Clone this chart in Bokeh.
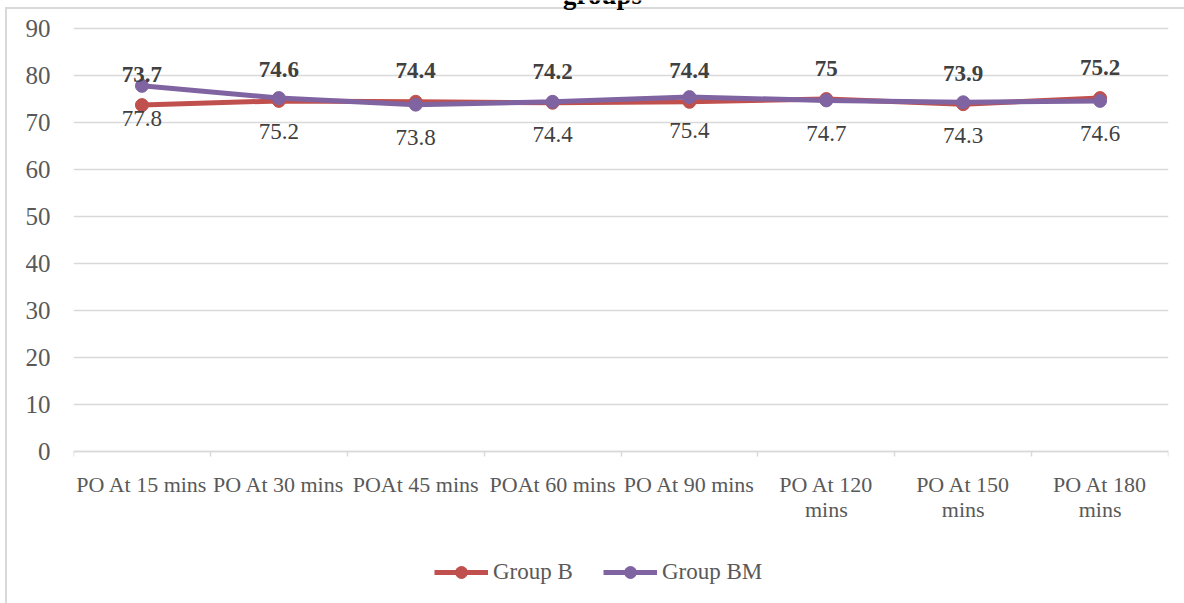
from bokeh.plotting import figure
from bokeh.models import (ColumnDataSource, FixedTicker, LabelSet, Label, Legend,
                          LegendItem, Range1d)
from bokeh.embed import file_html
from bokeh.resources import INLINE

# Time points and mean values for the two groups
categories = ["PO At 15 mins", "PO At 30 mins", "POAt 45 mins", "POAt 60 mins",
              "PO At 90 mins", "PO At 120\nmins", "PO At 150\nmins", "PO At 180\nmins"]
group_b = [73.7, 74.6, 74.4, 74.2, 74.4, 75, 73.9, 75.2]
group_bm = [77.8, 75.2, 73.8, 74.4, 75.4, 74.7, 74.3, 74.6]
y_ticks = [0, 10, 20, 30, 40, 50, 60, 70, 80, 90]

RED = "#C0504D"
PURPLE = "#8064A2"
GRID = "#d9d9d9"
TEXT = "#595959"
FONT = "Liberation Serif"

# The frame fills the whole canvas height; the value axis 0..90 occupies
# pixel rows 28..451 and the category axis is pinned at y = 0.
W, H = 1184, 603
PLOT_TOP, PLOT_BOTTOM = 28, 451
px_per_unit = (PLOT_BOTTOM - PLOT_TOP) / 90
y_start = -(H - PLOT_BOTTOM) / px_per_unit
y_end = 90 + PLOT_TOP / px_per_unit

xs = [i + 0.5 for i in range(len(categories))]
src = ColumnDataSource(dict(
    x=xs, b=group_b, bm=group_bm,
    b_txt=[f"{v:g}" for v in group_b],
    bm_txt=[f"{v:g}" for v in group_bm],
))

# chart-area border (light grey lines on the left and top) painted behind the canvas
border_css = ("linear-gradient(#d9d9d9, #d9d9d9) 5px 7px / 2px 100% no-repeat, "
              "linear-gradient(#d9d9d9, #d9d9d9) 5px 7px / 100% 2px no-repeat, #ffffff")

p = figure(width=W, height=H, output_backend="svg", toolbar_location=None,
           x_range=Range1d(0, len(categories)), y_range=Range1d(y_start, y_end),
           min_border_left=73, min_border_right=16, min_border_top=0,
           min_border_bottom=0, styles={"background": border_css})
p.outline_line_color = None
p.background_fill_color = None
p.border_fill_color = None

# y axis: labels only, light horizontal gridlines
p.yaxis.ticker = FixedTicker(ticks=y_ticks)
p.yaxis.axis_line_color = None
p.yaxis.major_tick_line_color = None
p.yaxis.minor_tick_line_color = None
p.yaxis.major_tick_out = 0
p.yaxis.major_label_standoff = 23
p.yaxis.major_label_text_font = FONT
p.yaxis.major_label_text_font_size = "25px"
p.yaxis.major_label_text_color = TEXT
p.ygrid.ticker = FixedTicker(ticks=y_ticks)
p.ygrid.grid_line_color = GRID
p.ygrid.grid_line_width = 1.5
p.xgrid.grid_line_color = None

# x axis at y = 0: category names centred, tick marks on the category boundaries
xax = p.xaxis[0]
xax.fixed_location = 0
xax.ticker = FixedTicker(ticks=xs, minor_ticks=list(range(len(categories) + 1)))
xax.major_label_overrides = {x: c for x, c in zip(xs, categories)}
xax.axis_line_color = GRID
xax.axis_line_width = 1.5
xax.major_tick_line_color = None
xax.major_tick_out = 0
xax.major_tick_in = 0
xax.minor_tick_line_color = GRID
xax.minor_tick_line_width = 1.5
xax.minor_tick_out = 5
xax.minor_tick_in = 0
xax.major_label_standoff = 15
xax.major_label_text_font = FONT
xax.major_label_text_font_size = "22px"
xax.major_label_text_line_height = 1.0
xax.major_label_text_color = TEXT

# series
lb = p.line("x", "b", source=src, line_color=RED, line_width=5)
sb = p.scatter("x", "b", source=src, size=13, fill_color=RED, line_color=RED)
lbm = p.line("x", "bm", source=src, line_color=PURPLE, line_width=5)
sbm = p.scatter("x", "bm", source=src, size=13, fill_color=PURPLE, line_color=PURPLE)

# value labels
p.add_layout(LabelSet(x="x", y="b", text="b_txt", source=src, y_offset=31,
                      text_align="center", text_baseline="middle",
                      text_font=FONT, text_font_style="bold",
                      text_font_size="23px", text_color="#404040"))
p.add_layout(LabelSet(x="x", y="bm", text="bm_txt", source=src, y_offset=-33,
                      text_align="center", text_baseline="middle",
                      text_font=FONT, text_font_size="23px", text_color="#404040"))

# heading (its upper part runs off the top edge)
p.add_layout(Label(x=529, y=H + 6, x_units="screen", y_units="screen",
                   text="groups", text_font=FONT, text_font_style="bold",
                   text_font_size="27px", text_align="center",
                   text_baseline="alphabetic", text_color="#000000"))

legend = Legend(items=[LegendItem(label="Group B", renderers=[lb, sb]),
                       LegendItem(label="Group BM", renderers=[lbm, sbm])],
                orientation="horizontal", location=(361, 16),
                label_text_font=FONT, label_text_font_size="23px",
                label_text_color=TEXT, glyph_width=54, glyph_height=30,
                label_standoff=5, spacing=30, padding=0, margin=0,
                border_line_color=None, background_fill_alpha=0)
p.add_layout(legend)

open("out.html", "w").write(file_html(p, INLINE))
